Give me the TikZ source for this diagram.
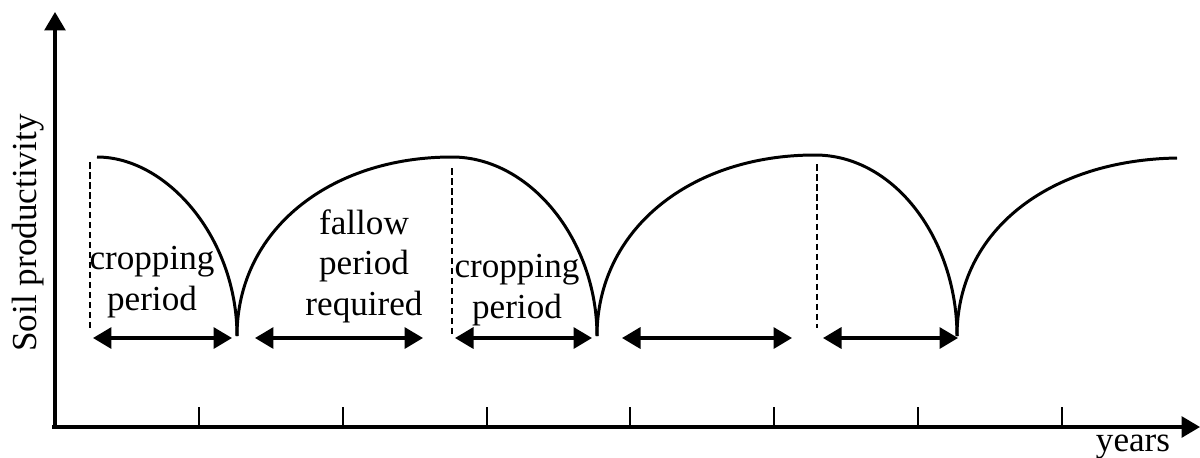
\documentclass[tikz,border=0pt]{standalone}
\usepackage{fontspec}
\setmainfont{Liberation Serif}
\usetikzlibrary{arrows.meta}

\begin{document}
\begin{tikzpicture}[x=0.02cm, y=-0.02cm, line width=1.6pt,
    >={Triangle[length=0.37cm,width=0.42cm]},
    lbl/.style={font=\fontsize{20}{23}\selectfont, align=center, inner sep=0pt},
    curva/.style={line width=1.7pt},
    guia/.style={line width=1.6pt, dash pattern=on 0.13cm off 0.07cm},
    periodo/.style={<->, line width=2pt}]
    \useasboundingbox (0,0) rectangle (1200,457);
    % ejes
    \coordinate (O) at (55,427); \coordinate (ytop) at (55,12);
    \coordinate (xini) at (52,427); \coordinate (xend) at (1200,427);
    \draw[->, line width=1.8pt] (O) -- (ytop);
    \draw[->, line width=1.8pt] (xini) -- (xend);
    \foreach \x in {199,343,487,630,774,918,1062} \draw (\x,427) -- (\x,407);
    \node[lbl, rotate=90] (ylab) at (28,233) {Soil productivity};
    \node[lbl] (xlab) at (1133,447) {years};
    % curvas (minimos en c1, c2, c3)
    \coordinate (c1) at (237,336); \coordinate (c2) at (597,336); \coordinate (c3) at (957,336);
    \draw[curva] (97,157) .. controls (167,157) and (237,238) .. (c1);
    \draw[curva] (c1) .. controls (237,230) and (330,157) .. (452,157)
                     .. controls (530,157) and (597,240) .. (c2);
    \draw[curva] (c2) .. controls (597,230) and (690,155) .. (815,155)
                     .. controls (895,155) and (957,240) .. (c3);
    \draw[curva] (c3) .. controls (957,230) and (1050,160) .. (1177,158);
    % lineas de corte
    \draw[guia] (90,162) -- (90,328);
    \draw[guia] (452,168) -- (452,335);
    \draw[guia] (817,164) -- (817,328);
    % periodos
    \coordinate (a1) at (93,338);  \coordinate (b1) at (232,338);
    \coordinate (a2) at (255,338); \coordinate (b2) at (423,338);
    \coordinate (a3) at (455,338); \coordinate (b3) at (592,338);
    \coordinate (a4) at (622,338); \coordinate (b4) at (792,338);
    \coordinate (a5) at (823,338); \coordinate (b5) at (958,338);
    \foreach \i in {1,...,5} \draw[periodo] (a\i) -- (b\i);
    \node[lbl] (crop1) at (152,282) {cropping\\period};
    \node[lbl] (fallow) at (364,266) {fallow\\period\\required};
    \node[lbl] (crop2) at (517,290) {cropping\\period};
\end{tikzpicture}
\end{document}
